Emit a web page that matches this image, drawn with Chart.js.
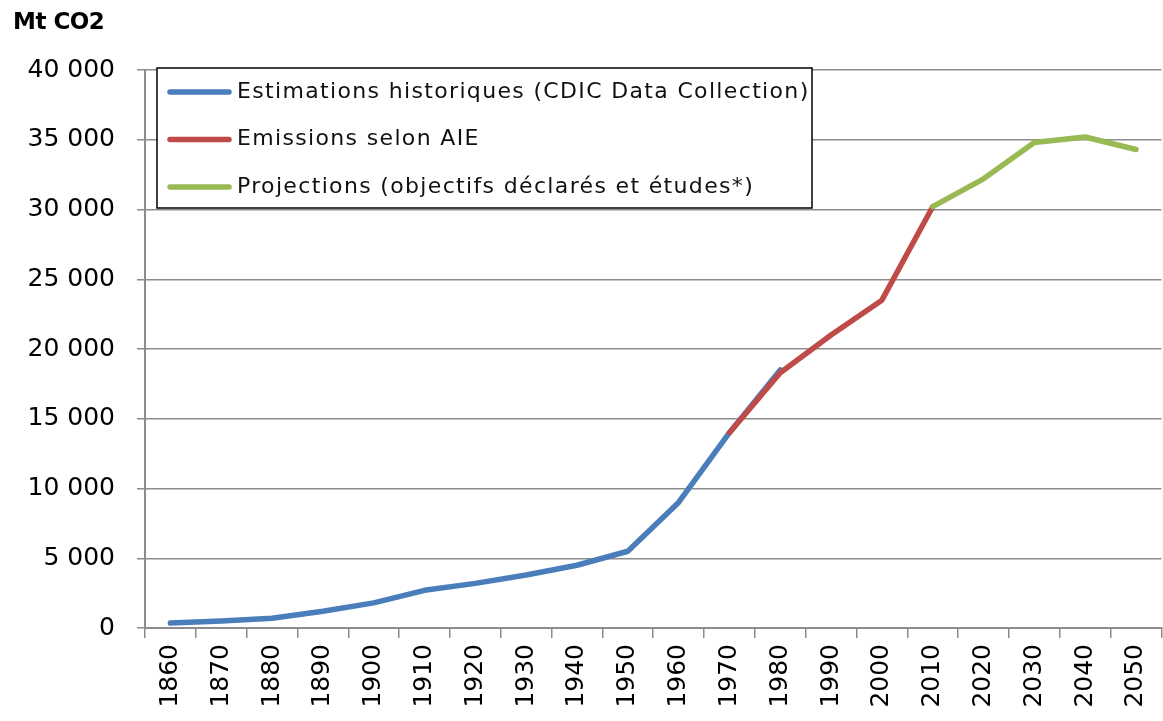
<!DOCTYPE html>
<html>
<head>
<meta charset="utf-8">
<script src="https://cdn.jsdelivr.net/npm/chart.js@4.4.1/dist/chart.umd.min.js"></script>
<style>
    html, body { margin: 0; padding: 0; background: #fff; overflow: hidden; }
    #wrap { position: relative; width: 1163px; height: 721px; overflow: hidden; }
    #unit { position: absolute; left: 13px; top: 8px; font: bold 23px "DejaVu Sans", sans-serif; color: #000; letter-spacing: -0.5px; }
    canvas { position: absolute; left: 0; top: 0; }
</style>
</head>
<body>
<div id="wrap">
    <canvas id="co2Chart" width="1172" height="721"></canvas>
    <div id="unit">Mt CO2</div>
</div>
<script>
const decades = ['1860', '1870', '1880', '1890', '1900', '1910', '1920', '1930', '1940', '1950',
                 '1960', '1970', '1980', '1990', '2000', '2010', '2020', '2030', '2040', '2050'];

// Mt CO2 per decade
const historical = [350, 500, 700, 1200, 1800, 2700, 3200, 3800, 4500, 5500,
                    9000, 14000, 18500, null, null, null, null, null, null, null];
const iea = [null, null, null, null, null, null, null, null, null, null,
             null, 14000, 18300, 21000, 23500, 30200, null, null, null, null];
const projections = [null, null, null, null, null, null, null, null, null, null,
                     null, null, null, null, null, 30200, 32200, 34800, 35200, 34300];

const seriesLabels = [
    'Estimations historiques (CDIC Data Collection)',
    'Emissions selon AIE',
    'Projections (objectifs déclarés et études*)'
];

const colors = {
    blue: '#4a7ebb',
    red: '#be4b48',
    green: '#98b954',
    grid: '#8c8c8c'
};

// legend drawn as a framed box inside the plot, like the original
const boxLegend = {
    id: 'boxLegend',
    afterDraw(chart) {
        const ctx = chart.ctx;
        const x = 157, y = 68, w = 655, h = 140;
        ctx.save();
        ctx.fillStyle = '#fff';
        ctx.fillRect(x, y, w, h);
        ctx.strokeStyle = '#000';
        ctx.lineWidth = 1.5;
        ctx.strokeRect(x, y, w, h);
        ctx.font = '22px "DejaVu Sans", sans-serif';
        // the original text is loosely spaced: stretch the first label to ~571px
        const first = chart.data.datasets[0].label;
        const spacing = Math.max(0, (571 - ctx.measureText(first).width) / (first.length - 1));
        ctx.letterSpacing = spacing.toFixed(2) + 'px';
        ctx.textBaseline = 'middle';
        chart.data.datasets.forEach((ds, i) => {
            const rowY = 92 + i * 47.5;
            ctx.strokeStyle = ds.borderColor;
            ctx.lineWidth = 5.5;
            ctx.lineCap = 'round';
            ctx.beginPath();
            ctx.moveTo(170, rowY);
            ctx.lineTo(229, rowY);
            ctx.stroke();
            ctx.fillStyle = '#111';
            ctx.fillText(ds.label, 237, rowY);
        });
        ctx.restore();
    }
};

const lineStyle = {
    borderWidth: 5.5,
    pointRadius: 0,
    tension: 0,
    borderCapStyle: 'round',
    borderJoinStyle: 'round',
    spanGaps: false
};

new Chart(document.getElementById('co2Chart'), {
    type: 'line',
    data: {
        labels: decades,
        datasets: [
            { label: seriesLabels[0], data: historical, borderColor: colors.blue, order: 3, ...lineStyle },
            { label: seriesLabels[1], data: iea, borderColor: colors.red, order: 2, ...lineStyle },
            { label: seriesLabels[2], data: projections, borderColor: colors.green, order: 1, ...lineStyle }
        ]
    },
    options: {
        responsive: false,
        animation: false,
        layout: { padding: { top: 70, right: 1, left: 0, bottom: 0 } },
        plugins: {
            legend: { display: false },
            tooltip: { enabled: false }
        },
        scales: {
            x: {
                offset: true,
                afterFit: s => { s.height = 93; },
                border: { display: true, color: colors.grid, width: 2 },
                grid: { offset: true, drawOnChartArea: false, color: colors.grid, lineWidth: 1.5, tickLength: 10 },
                ticks: {
                    minRotation: 90,
                    maxRotation: 90,
                    autoSkip: false,
                    padding: 6,
                    color: '#000',
                    font: { family: 'DejaVu Sans', size: 25 }
                }
            },
            y: {
                min: 0,
                max: 40000,
                afterFit: s => { s.width = 145; },
                border: { display: true, color: colors.grid, width: 2 },
                grid: { color: colors.grid, lineWidth: 1.5, tickLength: 8 },
                ticks: {
                    stepSize: 5000,
                    padding: 22,
                    color: '#000',
                    font: { family: 'DejaVu Sans', size: 25 },
                    callback: v => String(v).replace(/\B(?=(\d{3})+(?!\d))/g, ' ')
                }
            }
        }
    },
    plugins: [boxLegend]
});
</script>
</body>
</html>
